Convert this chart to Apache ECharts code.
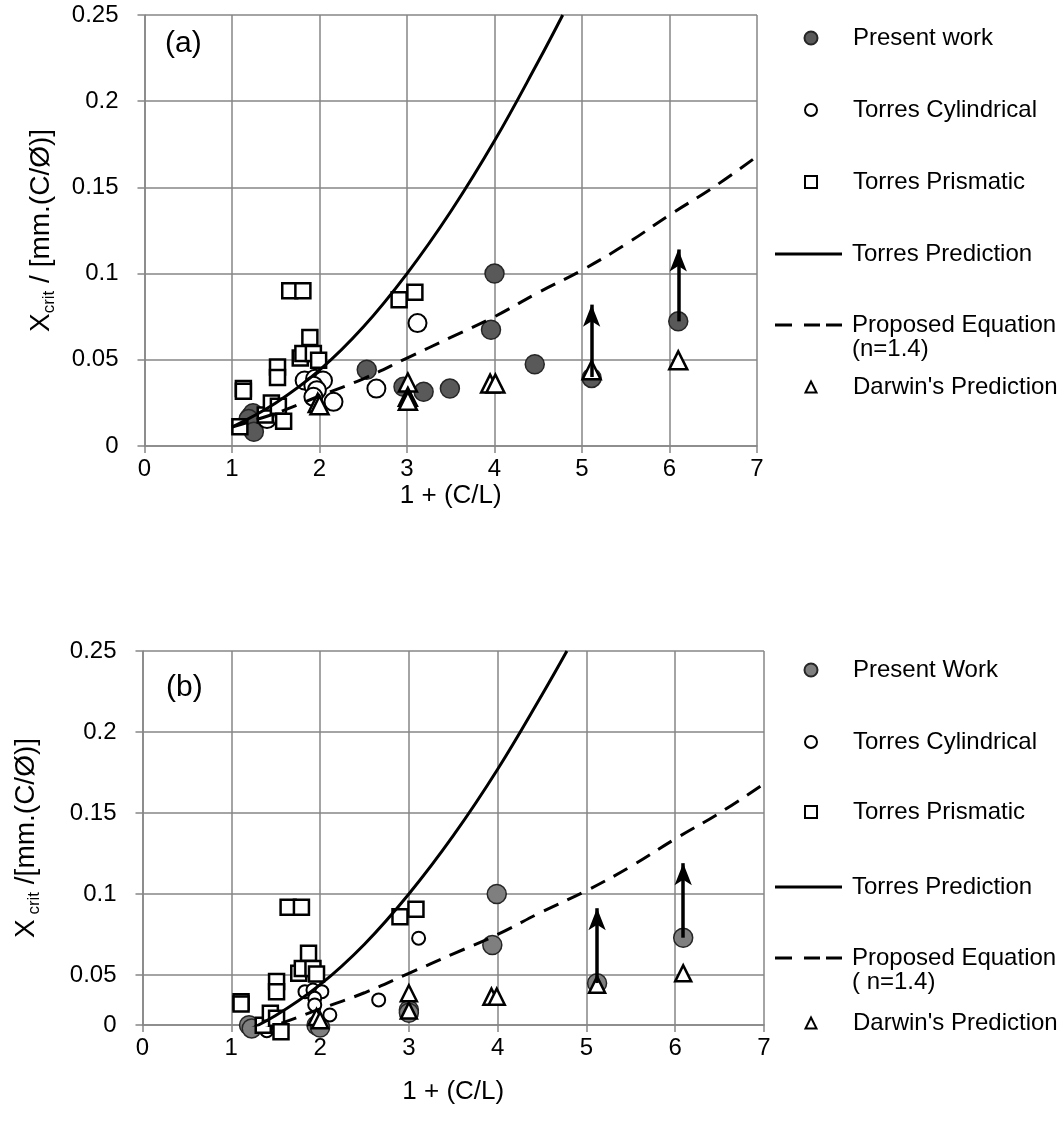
<!DOCTYPE html>
<html><head><meta charset="utf-8">
<script src="https://cdn.jsdelivr.net/npm/echarts@6/dist/echarts.min.js"></script>
<style>html,body{margin:0;padding:0;background:#fff}#c{width:1061px;height:1147px}</style>
</head><body><div id="c"></div>
<script>
// ---------- DATA ----------
// Panel (a)
const presentA = [[1.21,0.017],[1.24,0.019],[1.19,0.0156],[1.25,0.0083],[2.54,0.0442],[2.96,0.0343],[3.19,0.0314],[3.49,0.0333],[3.96,0.0674],[4.0,0.1],[4.46,0.0474],[5.11,0.0395],[6.1,0.0723]];
const cylA = [[1.4,0.0156],[1.83,0.038],[1.95,0.039],[2.04,0.038],[1.93,0.035],[1.97,0.0324],[1.93,0.0285],[2.16,0.0256],[2.65,0.0333],[3.12,0.0713]];
const prisA = [[1.09,0.0112],[1.13,0.0334],[1.13,0.0318],[1.38,0.018],[1.45,0.025],[1.53,0.023],[1.59,0.0143],[1.52,0.0458],[1.52,0.0397],[1.66,0.090],[1.81,0.090],[1.78,0.051],[1.81,0.0536],[1.93,0.0536],[1.99,0.0497],[1.89,0.063],[2.91,0.0848],[3.09,0.0892]];
const darwinA = [[1.98,0.025],[2.0,0.0237],[3.01,0.0368],[3.01,0.0285],[3.01,0.0262],[3.95,0.0362],[4.01,0.0362],[5.11,0.044],[6.1,0.0497]];
const arrowsA = [[[5.11,0.04],[5.11,0.082]],[[6.1,0.0723],[6.1,0.114]]];
// Panel (b)
const presentB = [[1.2,0.019],[1.23,0.017],[1.96,0.019],[2.0,0.0175],[3.0,0.0284],[3.0,0.0266],[3.94,0.0685],[3.99,0.1],[5.12,0.0449],[6.09,0.073]];
const cylB = [[1.4,0.0156],[1.83,0.0397],[1.92,0.0407],[2.02,0.0397],[1.94,0.0356],[1.94,0.0315],[2.11,0.0253],[2.66,0.0346],[3.11,0.0727]];
const prisB = [[1.11,0.0335],[1.11,0.032],[1.36,0.019],[1.44,0.0264],[1.51,0.0233],[1.56,0.015],[1.51,0.0459],[1.51,0.0397],[1.64,0.0918],[1.79,0.0918],[1.76,0.051],[1.8,0.054],[1.92,0.054],[1.96,0.0506],[1.87,0.0634],[2.9,0.086],[3.08,0.0906]];
const darwinB = [[1.96,0.024],[2.0,0.022],[3.0,0.0387],[3.0,0.028],[3.93,0.0366],[3.99,0.0366],[5.12,0.044],[6.09,0.051]];
const arrowsB = [[[5.12,0.045],[5.12,0.0912]],[[6.09,0.073],[6.09,0.119]]];
// Curves (both panels)
const torresX = [1, 1.5, 2, 2.5, 3, 3.5, 4, 4.5, 4.78];
const torresY = [0.011, 0.025, 0.044, 0.069, 0.1, 0.136, 0.177, 0.223, 0.25];
const propX = [1, 1.5, 2, 2.5, 3, 3.5, 4, 4.5, 5, 5.5, 6, 6.5, 7];
const propY = [0.011, 0.019, 0.029, 0.039, 0.051, 0.063, 0.075, 0.089, 0.102, 0.117, 0.134, 0.150, 0.168];
// Tick settings
const xTicks = {min: 0, max: 7, interval: 1};
const yTicksA = {min: 0, max: 0.25, interval: 0.05};
const yRangeB = {min: 0.0191, max: 0.25};
const namesA = ['Present work','Torres Cylindrical','Torres Prismatic','Torres Prediction','Proposed Equation (n=1.4)',"Darwin's Prediction"];
const namesB = ['Present Work','Torres Cylindrical ','Torres Prismatic ','Torres Prediction ','Proposed Equation ( n=1.4)',"Darwin's Prediction "];

// ---------- CHART ----------
const F = "'Liberation Sans', Arial, sans-serif";
const GRAY = '#868686';
const zip = (xs, ys) => xs.map((x, i) => [x, ys[i]]);

function xAxis(gi, gap) {
  return {gridIndex: gi, type: 'value', min: xTicks.min, max: xTicks.max, interval: xTicks.interval,
    axisLine: {show: true, onZero: false, lineStyle: {color: GRAY, width: 1.5}},
    axisTick: {show: true, length: 7, lineStyle: {color: GRAY, width: 1.5}},
    splitLine: {show: true, lineStyle: {color: GRAY, width: 1.5}},
    axisLabel: {fontSize: 24, fontFamily: F, color: '#000', margin: 11},
    name: '1 + (C/L)', nameLocation: 'middle', nameGap: gap,
    nameTextStyle: {fontSize: 26, fontFamily: F, color: '#000'}};
}
function yAxis(gi, range, name, fmt, gap) {
  return Object.assign({gridIndex: gi, type: 'value',
    axisLine: {show: true, onZero: false, lineStyle: {color: GRAY, width: 1.5}},
    axisTick: {show: true, length: 7, lineStyle: {color: GRAY, width: 1.5}},
    splitLine: {show: true, lineStyle: {color: GRAY, width: 1.5}},
    axisLabel: {fontSize: 24, fontFamily: F, color: '#000', margin: 26, formatter: fmt},
    name: name, nameLocation: 'middle', nameGap: gap, nameRotate: 90,
    nameTextStyle: {fontFamily: F, color: '#000', rich: {
      x: {fontSize: 28, fontFamily: F, color: '#000', lineHeight: 32},
      s: {fontSize: 17, fontFamily: F, color: '#000', verticalAlign: 'bottom', lineHeight: 17}}}
  }, range);
}

function panel(gi, d) {
  const common = {xAxisIndex: gi, yAxisIndex: gi, animation: false};
  return [
    Object.assign({type: 'scatter', name: d.names[0], data: d.present, symbol: 'circle', symbolSize: 19, clip: false,
      itemStyle: {color: d.presentColor, borderColor: '#262626', borderWidth: 1.5, opacity: 1},
      markLine: {silent: true, animation: false, symbol: ['none', 'arrow'], symbolSize: [13, 22],
        lineStyle: {color: '#000', width: 3.5, type: 'solid'}, label: {show: false},
        data: d.arrows.map(a => [{coord: a[0]}, {coord: a[1]}])}}, common),
    Object.assign({type: 'scatter', name: d.names[1], data: d.cyl, symbol: 'circle', symbolSize: d.cylSize, clip: false,
      itemStyle: {color: '#fff', borderColor: '#000', borderWidth: 2, opacity: 1}}, common),
    Object.assign({type: 'scatter', name: d.names[2], data: d.pris, symbol: 'rect', symbolSize: 15, clip: false,
      itemStyle: {color: '#fff', borderColor: '#000', borderWidth: 2.5, opacity: 1}}, common),
    Object.assign({type: 'line', name: d.names[3], data: zip(torresX, torresY), smooth: 0.4, symbol: 'none',
      lineStyle: {color: '#000', width: 3, type: 'solid'}, itemStyle: {color: '#000'}}, common),
    Object.assign({type: 'line', name: d.names[4], data: zip(propX, propY), smooth: 0.4, symbol: 'none',
      lineStyle: {color: '#000', width: 3, type: [16, 10]}, itemStyle: {color: '#000'}}, common),
    Object.assign({type: 'scatter', name: d.names[5], data: d.darwin, symbol: 'triangle', symbolSize: d.triSize, clip: false,
      itemStyle: {color: '#fff', borderColor: '#000', borderWidth: 2.5, opacity: 1}}, common)
  ];
}

const SOLID_ICON = 'rect';
const DASH_ICON = 'path://M0,0h17v3h-17z M29,0h16v3h-16z M51,0h16v3h-16z';
function legends(names, centers) {
  const marker = {0: 13, 1: 12, 2: 12, 5: 11};
  return names.map((n, i) => {
    const isLine = (i === 3 || i === 4);
    const base = {
      orient: 'vertical', top: centers[i] - 14, selectedMode: false, padding: 0,
      formatter: (nm) => nm.trim().replace(/ \(.*$/, ''),
      textStyle: {fontSize: 24, fontFamily: F, color: '#000', lineHeight: 28}
    };
    if (isLine) {
      return Object.assign(base, {left: 775, itemWidth: 67, itemHeight: 3, symbolKeepAspect: false,
        data: [{name: n, icon: i === 3 ? SOLID_ICON : DASH_ICON, itemStyle: {color: '#000', borderWidth: 0}}],
        textStyle: Object.assign({}, base.textStyle, {padding: [0, 0, 0, 5]})});
    }
    const s = marker[i];
    return Object.assign(base, {left: 810 - s / 2, itemWidth: s, itemHeight: s, data: [n],
      textStyle: Object.assign({}, base.textStyle, {padding: [0, 0, 0, 852 - (810 + s / 2) - 5]})});
  });
}

const chart = echarts.init(document.getElementById('c'), null, {renderer: 'canvas'});
const fmtA = v => v === 0 ? '0' : String(+v.toFixed(2));
const fmtB = v => v < 0.03 ? '0' : String(+v.toFixed(2));
chart.setOption({
  backgroundColor: '#fff',
  animation: false,
  grid: [
    {left: 144.5, top: 15, width: 612.5, height: 431},
    {left: 142.5, top: 651, width: 621.5, height: 374}
  ],
  xAxis: [xAxis(0, 37), xAxis(1, 54)],
  yAxis: [
    yAxis(0, yTicksA, '{x|X}{s|crit}{x| / [mm.(C/Ø)]}', fmtA, 87),
    yAxis(1, Object.assign({splitNumber: 5}, yRangeB), '{x|X}{s| crit}{x| /[mm.(C/Ø)]}', fmtB, 100)
  ],
  legend: legends(namesA, [38, 110, 182, 254, 325, 387]).concat(legends(namesB, [670, 742, 812, 887, 958, 1023])),
  graphic: [
    {type: 'text', left: 165, top: 29, style: {text: '(a)', font: '30px ' + F, fill: '#000'}},
    {type: 'text', left: 166, top: 673, style: {text: '(b)', font: '30px ' + F, fill: '#000'}},
    {type: 'text', left: 852, top: 337, style: {text: '(n=1.4)', font: '24px ' + F, fill: '#000'}},
    {type: 'text', left: 852, top: 970, style: {text: '( n=1.4)', font: '24px ' + F, fill: '#000'}}
  ],
  series: panel(0, {names: namesA, present: presentA, presentColor: '#595959', arrows: arrowsA, cyl: cylA, cylSize: 18, pris: prisA, darwin: darwinA, triSize: 18})
    .concat(panel(1, {names: namesB, present: presentB, presentColor: '#7f7f7f', arrows: arrowsB, cyl: cylB, cylSize: 13, pris: prisB, darwin: darwinB, triSize: 16}))
});
</script></body></html>
